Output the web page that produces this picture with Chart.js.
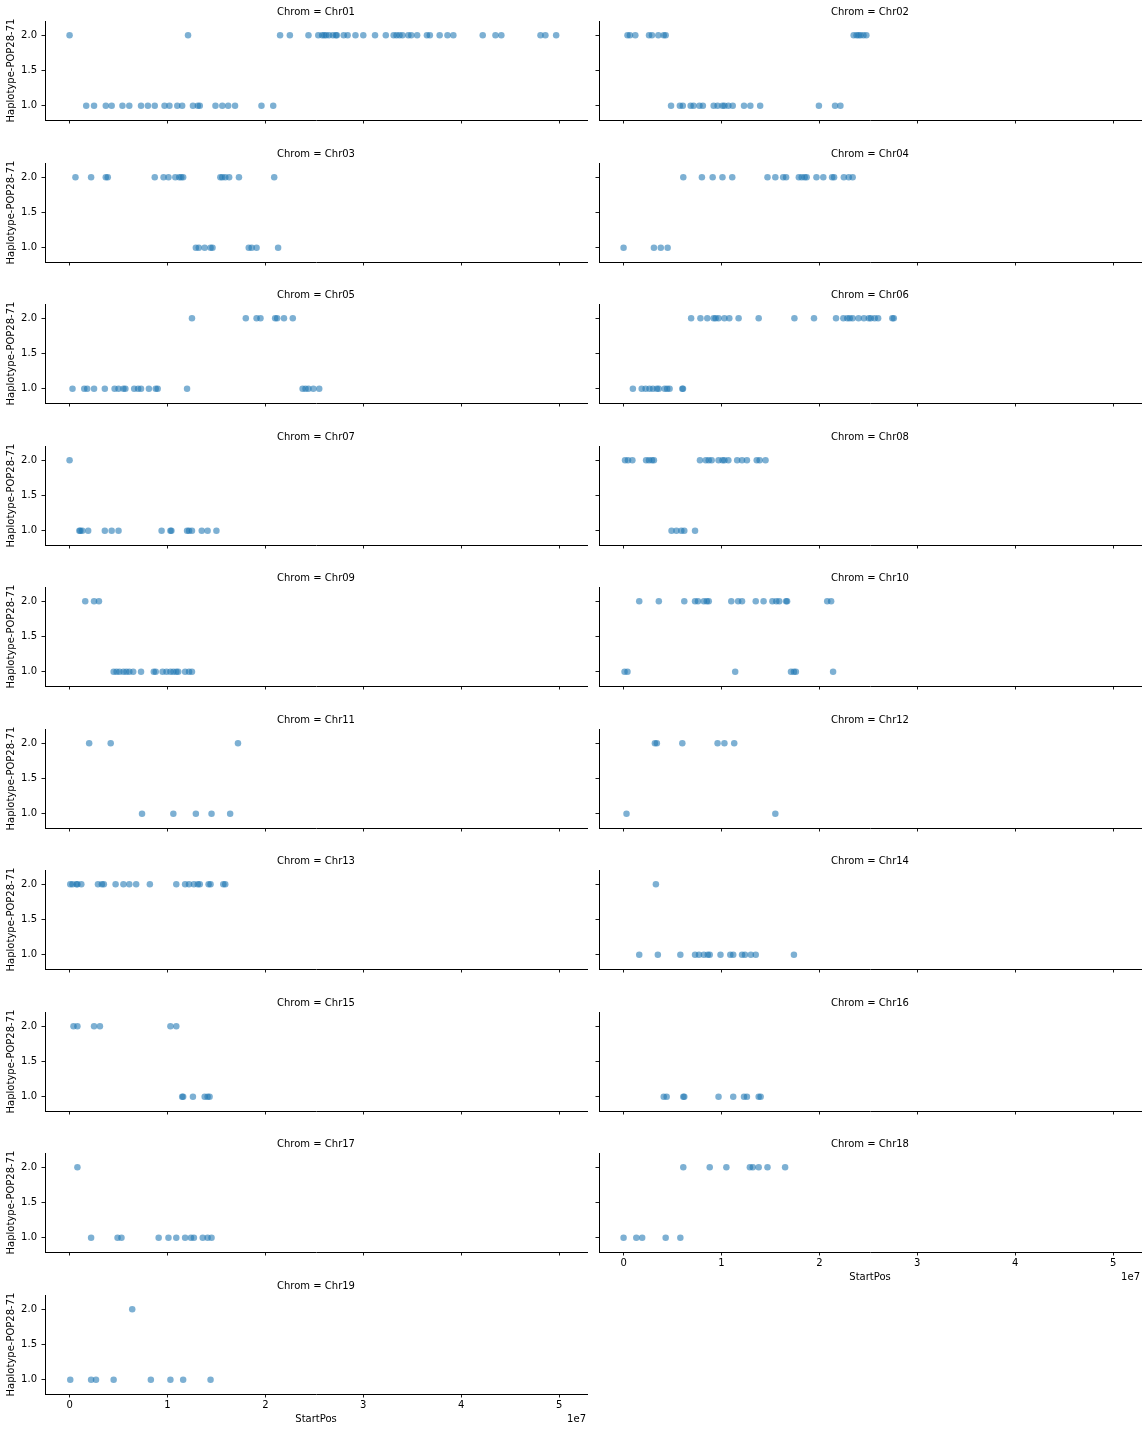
<!DOCTYPE html>
<html><head><meta charset="utf-8">
<script src="https://cdn.jsdelivr.net/npm/chart.js@4.4.1/dist/chart.umd.min.js"></script>
<style>
html,body{margin:0;padding:0;background:#fff;overflow:hidden;width:1144px;height:1432px;position:relative}
canvas{position:absolute}
</style></head><body>
<script>
// ---------- data (StartPos in Mb; haplotype value 2 or 1) ----------
const chromosomes = ['Chr01','Chr02','Chr03','Chr04','Chr05','Chr06','Chr07','Chr08','Chr09','Chr10',
                     'Chr11','Chr12','Chr13','Chr14','Chr15','Chr16','Chr17','Chr18','Chr19'];
const chr01Hap2 = [0.0, 12.1, 21.5, 22.5, 24.4, 25.4, 25.8, 26.0, 26.2, 26.5, 26.9, 27.2, 27.3, 28.0, 28.4, 29.2, 30.0, 31.2, 32.3, 33.1, 33.4, 33.7, 34.0, 34.6, 34.9, 35.5, 36.5, 36.8, 37.8, 38.6, 39.2, 42.2, 43.5, 44.1, 48.1, 48.6, 49.7];
const chr01Hap1 = [1.7, 2.5, 3.7, 4.3, 5.4, 6.1, 7.3, 8.0, 8.7, 9.7, 10.2, 11.0, 11.5, 12.6, 13.1, 13.3, 14.9, 15.6, 16.2, 16.9, 19.6, 20.8];
const chr02Hap2 = [0.4, 0.65, 1.2, 2.6, 2.9, 3.55, 4.1, 4.3, 23.5, 23.8, 24.0, 24.2, 24.5, 24.8];
const chr02Hap1 = [4.85, 5.75, 6.05, 6.85, 7.15, 7.75, 8.1, 9.2, 9.6, 10.1, 10.3, 10.7, 11.15, 12.3, 12.95, 13.95, 19.95, 21.6, 22.15];
const chr03Hap2 = [0.6, 2.2, 3.7, 3.9, 8.7, 9.6, 10.1, 10.8, 11.2, 11.4, 11.6, 15.4, 15.6, 15.9, 16.3, 17.3, 20.9];
const chr03Hap1 = [12.9, 13.2, 13.8, 14.4, 14.6, 18.3, 18.6, 19.1, 21.3];
const chr04Hap2 = [6.1, 8.0, 9.1, 10.1, 11.1, 14.7, 15.5, 16.3, 16.6, 17.9, 18.2, 18.5, 18.7, 19.7, 20.4, 21.3, 21.5, 22.5, 23.0, 23.4];
const chr04Hap1 = [0.0, 3.1, 3.8, 4.5];
const chr05Hap2 = [12.5, 18.0, 19.1, 19.5, 21.0, 21.2, 21.9, 22.8];
const chr05Hap1 = [0.3, 1.5, 1.8, 2.5, 3.6, 4.6, 5.0, 5.5, 5.7, 6.6, 7.0, 7.3, 8.1, 8.8, 9.0, 12.0, 23.8, 24.1, 24.4, 24.9, 25.5];
const chr06Hap2 = [6.9, 7.85, 8.55, 9.2, 9.4, 9.7, 10.3, 10.8, 11.75, 13.8, 17.45, 19.45, 21.7, 22.45, 22.85, 23.1, 23.4, 24.0, 24.55, 25.05, 25.25, 25.65, 26.0, 27.45, 27.6];
const chr06Hap1 = [0.95, 1.85, 2.25, 2.65, 3.0, 3.4, 3.6, 4.2, 4.45, 4.7, 6.0, 6.07];
const chr07Hap2 = [0.0];
const chr07Hap1 = [1.0, 1.1, 1.3, 1.9, 3.6, 4.3, 5.0, 9.4, 10.3, 10.4, 12.0, 12.2, 12.5, 13.5, 14.1, 15.0];
const chr08Hap2 = [0.15, 0.45, 0.9, 2.3, 2.6, 2.9, 3.1, 7.8, 8.4, 8.7, 9.0, 9.7, 10.1, 10.3, 10.7, 11.6, 12.1, 12.6, 13.6, 13.9, 14.5];
const chr08Hap1 = [4.9, 5.4, 5.9, 6.2, 7.3];
const chr09Hap2 = [1.6, 2.5, 3.0];
const chr09Hap1 = [4.5, 4.8, 5.1, 5.5, 5.8, 6.1, 6.5, 7.3, 8.6, 8.8, 9.5, 9.9, 10.3, 10.6, 10.9, 11.1, 11.8, 12.2, 12.5];
const chr10Hap2 = [1.6, 3.6, 6.2, 7.3, 7.6, 8.2, 8.5, 8.7, 11.0, 11.7, 12.1, 13.5, 14.3, 15.2, 15.6, 15.9, 16.6, 16.7, 20.8, 21.2];
const chr10Hap1 = [0.1, 0.4, 11.4, 17.1, 17.4, 17.6, 21.4];
const chr11Hap2 = [2.0, 4.2, 17.2];
const chr11Hap1 = [7.4, 10.6, 12.9, 14.5, 16.4];
const chr12Hap2 = [3.2, 3.4, 6.0, 9.6, 10.3, 11.3];
const chr12Hap1 = [0.3, 15.5];
const chr13Hap2 = [0.07, 0.3, 0.7, 0.8, 1.2, 2.9, 3.3, 3.5, 4.7, 5.5, 6.1, 6.8, 8.2, 10.9, 11.8, 12.2, 12.7, 13.1, 13.3, 14.2, 14.4, 15.7, 15.9];
const chr13Hap1 = [];
const chr14Hap2 = [3.3];
const chr14Hap1 = [1.6, 3.5, 5.8, 7.3, 7.7, 8.2, 8.6, 8.8, 9.9, 10.9, 11.2, 12.1, 12.4, 13.0, 13.5, 17.4];
const chr15Hap2 = [0.4, 0.8, 2.5, 3.1, 10.3, 10.9];
const chr15Hap1 = [11.5, 11.6, 12.6, 13.8, 14.1, 14.3];
const chr16Hap2 = [];
const chr16Hap1 = [4.1, 4.4, 6.1, 6.2, 9.7, 11.2, 12.3, 12.6, 13.8, 14.0];
const chr17Hap2 = [0.8];
const chr17Hap1 = [2.2, 4.9, 5.3, 9.1, 10.1, 10.9, 11.8, 12.4, 12.7, 13.6, 14.1, 14.5];
const chr18Hap2 = [6.1, 8.8, 10.5, 12.9, 13.2, 13.8, 14.7, 16.5];
const chr18Hap1 = [0.0, 1.3, 1.9, 4.3, 5.8];
const chr19Hap2 = [6.4];
const chr19Hap1 = [0.07, 2.2, 2.7, 4.5, 8.3, 10.3, 11.6, 14.4];

const hap2Lists = [chr01Hap2, chr02Hap2, chr03Hap2, chr04Hap2, chr05Hap2, chr06Hap2, chr07Hap2, chr08Hap2, chr09Hap2, chr10Hap2,
                   chr11Hap2, chr12Hap2, chr13Hap2, chr14Hap2, chr15Hap2, chr16Hap2, chr17Hap2, chr18Hap2, chr19Hap2];
const hap1Lists = [chr01Hap1, chr02Hap1, chr03Hap1, chr04Hap1, chr05Hap1, chr06Hap1, chr07Hap1, chr08Hap1, chr09Hap1, chr10Hap1,
                   chr11Hap1, chr12Hap1, chr13Hap1, chr14Hap1, chr15Hap1, chr16Hap1, chr17Hap1, chr18Hap1, chr19Hap1];

const xTickValues = [0, 1, 2, 3, 4, 5];          // x 1e7
const xTickLabels = ['0', '1', '2', '3', '4', '5'];
const yTickValues = [1.0, 1.5, 2.0];
const yTickLabels = ['1.0', '1.5', '2.0'];
const xAxisTitle = 'StartPos';
const yAxisTitle = 'Haplotype-POP28-71';
const offsetText = '1e7';

// ---------- layout ----------
const FONT = "'DejaVu Sans', 'Liberation Sans', sans-serif";
const X_MIN = -2.51e6, X_MAX = 5.285e7;
const Y_MIN = 0.8, Y_MAX = 2.2;
const SIDE = 45, AXW = 542, AXH = 99, TITLE_H = 16;
const INK = '#000';
const DOT = 'rgba(31,119,180,0.58)';

const offsetPlugin = {
  id: 'offsetText',
  afterDraw(chart, args, opts) {
    if (!opts || !opts.show) return;
    const ctx = chart.ctx, a = chart.chartArea;
    ctx.save();
    ctx.font = '10px ' + FONT;
    ctx.fillStyle = INK;
    ctx.textAlign = 'right';
    ctx.textBaseline = 'middle';
    ctx.fillText(opts.text, a.right - 1, a.bottom + 25);
    ctx.restore();
  }
};

chromosomes.forEach((name, idx) => {
  const col = idx % 2, row = Math.floor(idx / 2);
  const showX = idx >= 17;
  const showY = col === 0;
  const bottomH = showX ? 34 : 6;
  const W = SIDE + AXW + SIDE;
  const H = TITLE_H + AXH + bottomH;
  const cv = document.createElement('canvas');
  cv.width = W; cv.height = H;
  cv.style.width = W + 'px'; cv.style.height = H + 'px';
  cv.style.left = (col === 0 ? 0 : 554) + 'px';
  cv.style.top = Math.round(5 + 141.5 * row) + 'px';
  document.body.appendChild(cv);

  const pts = hap2Lists[idx].map(v => ({x: v * 1e6, y: 2}))
    .concat(hap1Lists[idx].map(v => ({x: v * 1e6, y: 1})));

  const tickGrid = {display: true, drawOnChartArea: false, drawTicks: true, tickLength: 3.5, tickWidth: 0.9, color: INK};

  new Chart(cv, {
    type: 'scatter',
    data: {datasets: [{
      data: pts,
      backgroundColor: DOT,
      borderWidth: 0,
      pointRadius: 3.25,
      pointHoverRadius: 3.25
    }]},
    plugins: [offsetPlugin],
    options: {
      responsive: false,
      animation: false,
      devicePixelRatio: 1,
      events: [],
      layout: {padding: 0},
      plugins: {
        legend: {display: false},
        tooltip: {enabled: false},
        title: {display: true, text: 'Chrom = ' + name, color: INK,
                font: {family: FONT, size: 10, weight: 'normal'},
                padding: {top: 1, bottom: 3}},
        offsetText: {show: showX, text: offsetText}
      },
      scales: {
        x: {
          type: 'linear', position: 'bottom', min: X_MIN, max: X_MAX,
          afterBuildTicks: s => { s.ticks = xTickValues.map(v => ({value: v * 1e7})); },
          ticks: {display: showX, autoSkip: false, maxRotation: 0, padding: 2.3, color: INK,
                  font: {family: FONT, size: 10}, callback: (v, i) => xTickLabels[i]},
          grid: tickGrid,
          border: {display: true, color: INK, width: 1},
          title: {display: showX, text: xAxisTitle, color: INK,
                  font: {family: FONT, size: 10}, padding: {top: 0, bottom: 2.2}},
          afterFit: s => { s.height = bottomH; s.paddingLeft = 0; s.paddingRight = 0; }
        },
        y: {
          type: 'linear', position: 'left', min: Y_MIN, max: Y_MAX,
          afterBuildTicks: s => { s.ticks = yTickValues.map(v => ({value: v})); },
          ticks: {display: showY, padding: 4.5, color: INK,
                  font: {family: FONT, size: 10}, callback: (v, i) => yTickLabels[i]},
          grid: tickGrid,
          border: {display: true, color: INK, width: 1},
          title: {display: showY, text: yAxisTitle, color: INK,
                  font: {family: FONT, size: 10}, padding: {top: 5.2, bottom: 0}},
          afterFit: s => { s.width = SIDE; s.paddingTop = 0; s.paddingBottom = 0; }
        },
        yPad: {
          type: 'linear', position: 'right', display: true,
          grid: {display: false}, border: {display: false}, ticks: {display: false},
          afterFit: s => { s.width = SIDE; s.paddingTop = 0; s.paddingBottom = 0; }
        }
      }
    }
  });
});
</script>
</body></html>
